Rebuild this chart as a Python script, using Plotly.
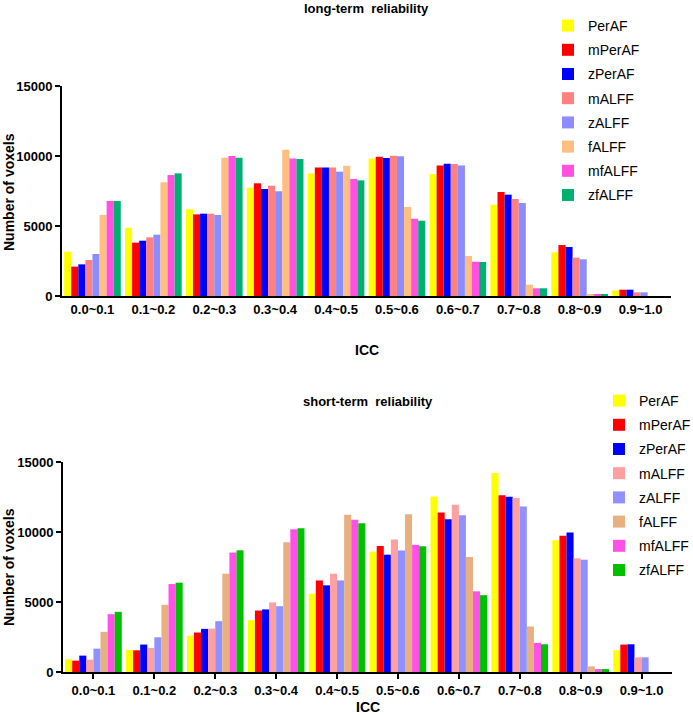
import plotly.graph_objects as go

W, H = 693, 715

categories = ["0.0~0.1", "0.1~0.2", "0.2~0.3", "0.3~0.4", "0.4~0.5",
              "0.5~0.6", "0.6~0.7", "0.7~0.8", "0.8~0.9", "0.9~1.0"]
series_names = ["PerAF", "mPerAF", "zPerAF", "mALFF", "zALFF", "fALFF", "mfALFF", "zfALFF"]

# long-term reliability
long_PerAF  = [3170, 4880, 6190, 7740, 8760, 9830, 8710, 6520, 3120, 400]
long_mPerAF = [2100, 3810, 5830, 8050, 9170, 9950, 9330, 7430, 3640, 450]
long_zPerAF = [2260, 3950, 5880, 7640, 9170, 9860, 9450, 7240, 3500, 450]
long_mALFF  = [2570, 4190, 5880, 7880, 9170, 10020, 9430, 6930, 2740, 260]
long_zALFF  = [3000, 4380, 5790, 7480, 8880, 9980, 9330, 6640, 2620, 260]
long_fALFF  = [5790, 8120, 9880, 10450, 9310, 6360, 2860, 810, 100, 0]
long_mfALFF = [6790, 8640, 10000, 9830, 8360, 5520, 2450, 550, 80, 0]
long_zfALFF = [6790, 8760, 9880, 9790, 8260, 5380, 2430, 550, 80, 0]

# short-term reliability
short_PerAF  = [910, 1580, 2600, 3700, 5590, 8600, 12540, 14210, 9410, 1550]
short_mPerAF = [810, 1550, 2820, 4390, 6540, 9000, 11390, 12630, 9740, 1960]
short_zPerAF = [1170, 1960, 3080, 4470, 6190, 8380, 10910, 12510, 9960, 1980]
short_mALFF  = [880, 1720, 3100, 4970, 7020, 9460, 11940, 12420, 8120, 1050]
short_zALFF  = [1670, 2480, 3630, 4700, 6540, 8670, 11200, 11820, 8020, 1050]
short_fALFF  = [2870, 4800, 7020, 9270, 11230, 11270, 8220, 3250, 400, 0]
short_mfALFF = [4130, 6280, 8530, 10200, 10870, 9080, 5760, 2080, 210, 0]
short_zfALFF = [4300, 6380, 8690, 10270, 10630, 8980, 5490, 1980, 210, 0]

y_ticks = [0, 5000, 10000, 15000]
y_tick_text = ["0", "5000", "10000", "15000"]

long_data = [long_PerAF, long_mPerAF, long_zPerAF, long_mALFF,
             long_zALFF, long_fALFF, long_mfALFF, long_zfALFF]
short_data = [short_PerAF, short_mPerAF, short_zPerAF, short_mALFF,
              short_zALFF, short_fALFF, short_mfALFF, short_zfALFF]

long_colors = ["#FFFF00", "#FF0000", "#0000FF", "#FF8080",
               "#8C8CFF", "#FFBF80", "#FF50E0", "#00B070"]
short_colors = ["#FFFF00", "#FF0000", "#0000FF", "#FFA0A0",
                "#9090FF", "#E8B080", "#FF50E8", "#00C000"]

FONT = "Liberation Sans, Arial, Helvetica, sans-serif"

fig = go.Figure()
for name, vals, col in zip(series_names, long_data, long_colors):
    fig.add_trace(go.Bar(x=categories, y=vals, name=name, marker_color=col,
                         marker_line_width=0, xaxis="x", yaxis="y",
                         legend="legend", legendgroup="L" + name))
for name, vals, col in zip(series_names, short_data, short_colors):
    fig.add_trace(go.Bar(x=categories, y=vals, name=name, marker_color=col,
                         marker_line_width=0, xaxis="x2", yaxis="y2",
                         legend="legend2", legendgroup="S" + name))

def px_x(p):
    return p / W

def px_y(p):
    return 1 - p / H

axis_common = dict(showgrid=False, zeroline=False, showline=True,
                   linecolor="black", linewidth=2, mirror=False)

xaxis_common = dict(axis_common, type="category", range=[-0.5, 9.5],
                    tickfont=dict(family=FONT, size=13, color="black", weight="bold"))
yaxis_common = dict(axis_common, range=[0, 15000], tickvals=y_ticks, ticktext=y_tick_text,
                    ticks="outside", ticklen=5, tickwidth=2, tickcolor="black",
                    tickfont=dict(family=FONT, size=13, color="black", weight="bold"))

legend_common = dict(font=dict(family=FONT, size=14, color="black"),
                     bgcolor="rgba(0,0,0,0)", tracegroupgap=3,
                     yanchor="top", itemwidth=30)

fig.update_layout(
    width=W, height=H,
    margin=dict(l=0, r=0, t=0, b=0, autoexpand=False),
    paper_bgcolor="white", plot_bgcolor="white",
    barmode="group", bargap=0.07, bargroupgap=0,
    showlegend=True,
    xaxis=dict(xaxis_common, domain=[px_x(62), px_x(671)], anchor="y", ticks=""),
    yaxis=dict(yaxis_common, domain=[px_y(296), px_y(86)], anchor="x"),
    xaxis2=dict(xaxis_common, domain=[px_x(63), px_x(672)], anchor="y2",
                ticks="outside", ticklen=5, tickwidth=2, tickcolor="black"),
    yaxis2=dict(yaxis_common, domain=[px_y(672), px_y(462)], anchor="x2"),
    legend=dict(legend_common, x=px_x(548), xanchor="left", y=px_y(10)),
    legend2=dict(legend_common, x=px_x(696), xanchor="right", y=px_y(385)),
)

bold13 = dict(family=FONT, size=13, color="black", weight="bold")
bold14 = dict(family=FONT, size=14, color="black", weight="bold")
ann = [
    dict(text="long-term  reliability", x=px_x(366), y=px_y(8), font=bold13),
    dict(text="short-term  reliability", x=px_x(368), y=px_y(401), font=bold13),
    dict(text="ICC", x=px_x(367), y=px_y(350), font=bold14),
    dict(text="ICC", x=px_x(368), y=px_y(707), font=bold14),
    dict(text="Number of voxels", x=px_x(9), y=px_y(192), font=bold14, textangle=-90),
    dict(text="Number of voxels", x=px_x(9), y=px_y(567), font=bold14, textangle=-90),
]
fig.update_layout(annotations=[dict(a, xref="paper", yref="paper", showarrow=False,
                                    xanchor="center", yanchor="middle") for a in ann])

# remove the browser's default 8px body margin so the figure fills the window
fig.write_html("out.html", config={"displayModeBar": False},
               post_script="document.body.style.margin='0';")
